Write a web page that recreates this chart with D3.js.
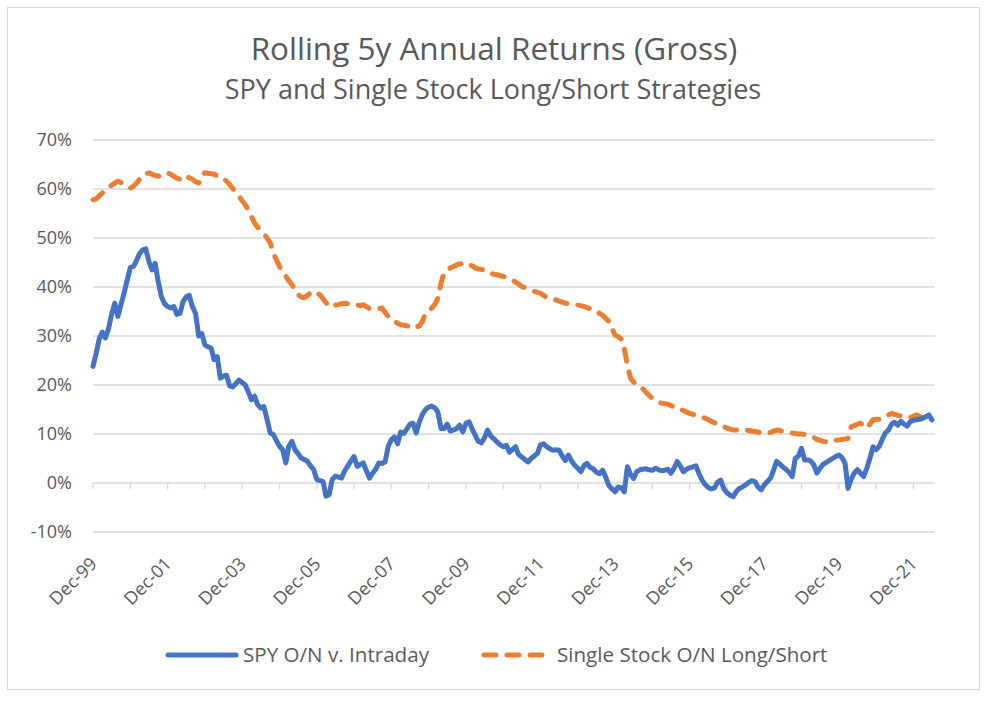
<!DOCTYPE html>
<html>
<head>
<meta charset="utf-8">
<script src="https://cdn.jsdelivr.net/npm/d3@7"></script>
<style>
  body { margin: 0; background: #fff; }
  text { font-family: "Open Sans", sans-serif; fill: #595959; }
</style>
</head>
<body>
<div id="chart"></div>
<script>
"use strict";

// monthly, first point Dec-99
var startMonth = new Date(1999, 11, 1);
var endMonth = new Date(2022, 6, 1);

var spy = [
  23.8, 26.5, 29.5, 30.8, 29.6, 31.5, 34.5, 36.7, 34.0, 36.5, 38.8, 41.5,
  44.0, 44.2, 45.5, 46.8, 47.6, 47.8, 45.2, 43.5, 44.8, 41.0, 38.0, 36.6,
  36.0, 35.7, 36.0, 34.4, 34.6, 37.0, 38.0, 38.3, 36.0, 34.6, 30.0, 30.5,
  28.2, 27.8, 27.5, 25.2, 25.8, 21.4, 21.8, 22.0, 19.8, 19.6, 20.3, 21.0,
  20.5, 20.0, 18.5, 17.0, 17.7, 16.0, 15.3, 15.6, 13.0, 10.2, 9.9, 8.6,
  7.5, 6.8, 4.1, 7.5, 8.5, 6.8, 6.0, 5.1, 4.8, 4.4, 3.5, 2.7,
  0.7, 0.5, 0.3, -2.7, -2.4, 0.7, 1.4, 1.2, 1.0, 2.5, 3.5, 4.5,
  5.4, 3.4, 3.8, 4.1, 2.5, 1.0, 2.0, 2.8, 4.1, 4.0, 4.3, 7.5,
  8.8, 9.4, 8.0, 10.4, 10.1, 11.0, 12.0, 12.2, 10.2, 12.5, 14.0, 15.0,
  15.5, 15.7, 15.3, 14.5, 11.1, 11.1, 12.0, 10.6, 10.8, 11.1, 11.8, 10.4,
  12.2, 12.5, 11.0, 9.8, 8.5, 8.2, 9.2, 10.8, 9.6, 9.0, 8.4, 7.8,
  7.4, 7.7, 6.3, 6.8, 7.4, 5.8, 5.3, 4.8, 4.3, 5.0, 5.5, 6.0,
  7.8, 8.0, 7.4, 7.0, 6.7, 6.8, 6.7, 5.5, 4.6, 5.7, 4.5, 3.6,
  3.0, 2.3, 3.6, 4.0, 3.2, 2.9, 2.2, 1.9, 2.6, 1.2, -0.5, -1.2,
  -1.8, -0.8, -1.0, -1.8, 3.3, 1.8, 0.9, 2.3, 2.7, 2.8, 2.9, 2.7,
  2.6, 3.0, 2.7, 2.5, 2.6, 2.8, 2.0, 3.0, 4.4, 3.5, 2.3, 2.8,
  3.1, 3.3, 3.5, 2.0, 0.6, -0.3, -0.9, -1.2, -1.0, 0.2, 0.6, -1.2,
  -2.0, -2.5, -2.8, -1.8, -1.1, -0.8, -0.4, 0.1, 0.5, 0.3, -0.8, -1.4,
  -0.4, 0.3, 1.0, 2.5, 4.4, 3.9, 3.3, 2.8, 2.2, 1.3, 5.0, 5.5,
  7.1, 4.7, 4.7, 4.5, 3.7, 2.0, 3.0, 3.8, 4.2, 4.6, 5.0, 5.4,
  5.7, 5.2, 4.0, -1.1, 0.8, 2.0, 2.7, 2.0, 1.3, 3.0, 5.0, 7.4,
  6.8, 7.5, 9.0, 10.2, 10.8, 12.0, 12.4, 11.8, 12.6, 12.0, 11.6, 12.5,
  12.8, 12.9, 13.0, 13.2, 13.5, 13.9, 12.9
];

var singleStock = [
  57.8, 58.0, 58.6, 59.2, 59.8, 60.2, 60.8, 61.2, 61.6, 61.3, 60.8, 60.5,
  60.2, 60.6, 61.2, 62.0, 62.9, 63.1, 63.3, 63.0, 62.8, 62.6, 62.9, 63.2,
  63.3, 63.0, 62.6, 62.2, 62.0, 61.9, 62.6, 62.3, 62.0, 61.5, 61.2, 62.5,
  63.3, 63.2, 63.1, 63.0, 62.7, 62.4, 62.1, 61.6, 60.9, 60.1, 59.3, 58.5,
  57.6, 56.8, 55.6, 54.4, 53.0, 52.2, 51.5, 51.0, 50.0, 49.0, 46.9, 45.5,
  44.2, 43.2, 42.2, 41.3, 40.5, 39.5, 38.4, 38.0, 37.8, 38.3, 38.8, 39.1,
  38.8, 38.4, 37.6, 36.8, 36.0, 36.1, 36.3, 36.4, 36.6, 36.7, 36.6, 36.4,
  36.4, 36.3, 36.2, 36.4, 36.0, 35.6, 35.4, 35.5, 35.6, 35.7, 34.8, 34.0,
  33.4, 33.0, 32.6, 32.3, 32.2, 32.1, 31.8, 31.6, 31.8, 32.1, 33.0, 34.7,
  35.2, 35.7, 36.5, 37.7, 40.8, 42.9, 43.3, 43.9, 44.2, 44.5, 44.7, 44.8,
  44.9, 44.6, 44.3, 43.9, 43.7, 43.6, 43.4, 43.1, 42.8, 42.6, 42.5, 42.3,
  42.2, 41.9, 41.6, 41.4, 41.0, 40.6, 40.1, 39.9, 39.7, 39.4, 39.1, 38.9,
  38.7, 38.3, 37.8, 37.6, 37.5, 37.4, 37.1, 36.9, 36.7, 36.6, 36.5, 36.4,
  36.3, 36.2, 36.0, 35.8, 35.6, 35.4, 35.0, 34.6, 34.2, 33.6, 33.0, 31.5,
  30.2, 29.9, 29.3, 27.5, 24.0, 21.4, 20.6, 20.1, 19.7, 19.2, 18.5, 17.8,
  17.3, 16.9, 16.5, 16.3, 16.2, 16.1, 15.8, 15.5, 15.2, 15.0, 14.8, 14.5,
  14.2, 14.0, 13.8, 13.6, 13.5, 13.2, 12.9, 12.6, 12.3, 12.0, 11.8, 11.5,
  11.2, 11.0, 10.8, 10.8, 10.8, 10.8, 10.8, 10.7, 10.6, 10.5, 10.4, 10.2,
  10.1, 10.1, 10.3, 10.6, 10.8, 10.7, 10.5, 10.4, 10.3, 10.2, 10.1, 10.0,
  10.0, 9.9, 9.8, 9.6, 9.3, 8.9, 8.7, 8.5, 8.4, 8.4, 8.5, 8.7,
  8.8, 8.9, 9.0, 9.1, 11.5, 11.7, 12.0, 12.2, 11.8, 11.2, 12.0, 12.9,
  13.0, 13.0, 13.3, 13.6, 13.9, 14.2, 14.0, 13.8, 13.7, 13.6, 13.5, 13.4,
  13.6, 13.9, 13.6, 13.3, 13.0, 13.0, 13.0
];

var yTicks = [-10, 0, 10, 20, 30, 40, 50, 60, 70];
var seriesNames = ["SPY O/N v. Intraday", "Single Stock O/N Long/Short"];
var title = "Rolling 5y Annual Returns (Gross)";
var subtitle = "SPY and Single Stock Long/Short Strategies";

var width = 987, height = 703;
var margin = { left: 93, right: 52, top: 140, bottom: 171 };

var svg = d3.select("#chart").append("svg")
  .attr("width", width)
  .attr("height", height);

svg.append("rect")
  .attr("x", 7.5).attr("y", 7.5)
  .attr("width", 972).attr("height", 682)
  .style("fill", "#fff")
  .style("stroke", "#d9d9d9");

var x = d3.scaleTime()
  .domain([startMonth, endMonth])
  .range([margin.left, width - margin.right]);
var y = d3.scaleLinear()
  .domain([-10, 70])
  .range([height - margin.bottom, margin.top]);

function monthDate(i) { return d3.timeMonth.offset(startMonth, i); }

// gridlines
svg.append("g")
  .selectAll("line")
  .data(yTicks)
  .enter().append("line")
  .attr("x1", margin.left).attr("x2", width - margin.right)
  .attr("y1", function(d) { return y(d); })
  .attr("y2", function(d) { return y(d); })
  .style("stroke", "#d9d9d9")
  .style("stroke-width", 1.3);

// y labels
svg.append("g")
  .selectAll("text")
  .data(yTicks)
  .enter().append("text")
  .attr("x", 72)
  .attr("y", function(d) { return y(d); })
  .attr("dy", "0.35em")
  .attr("text-anchor", "end")
  .style("font-size", "18px")
  .text(function(d) { return d + "%"; });

// x axis at 0%
var yearTicks = d3.range(0, 23).map(function(k) { return monthDate(k * 12); });
var xAxis = svg.append("g")
  .attr("transform", "translate(0," + y(0) + ")");
xAxis.selectAll("line.tick")
  .data(yearTicks)
  .enter().append("line")
  .attr("class", "tick")
  .attr("x1", function(d) { return x(d); })
  .attr("x2", function(d) { return x(d); })
  .attr("y1", 0).attr("y2", 6)
  .style("stroke", "#d9d9d9")
  .style("stroke-width", 1.3);

// category labels sit under the plot area
var fmt = d3.timeFormat("%b-%y");
svg.append("g")
  .selectAll("text")
  .data(yearTicks.filter(function(d, i) { return i % 2 === 0; }))
  .enter().append("text")
  .attr("text-anchor", "end")
  .attr("transform", function(d) {
    return "translate(" + (x(d) + 5) + "," + (y(-10) + 33) + ") rotate(-45)";
  })
  .style("font-size", "18px")
  .text(fmt);

var line = d3.line()
  .x(function(d, i) { return x(monthDate(i)); })
  .y(function(d) { return y(d); });

svg.append("path")
  .datum(singleStock)
  .attr("d", line)
  .style("fill", "none")
  .style("stroke", "#ed7d31")
  .style("stroke-width", 5)
  .style("stroke-linecap", "round")
  .style("stroke-linejoin", "round")
  .style("stroke-dasharray", "12,11");

svg.append("path")
  .datum(spy)
  .attr("d", line)
  .style("fill", "none")
  .style("stroke", "#4472c4")
  .style("stroke-width", 5)
  .style("stroke-linecap", "round")
  .style("stroke-linejoin", "round");

// titles
svg.append("text")
  .attr("x", 494).attr("y", 60)
  .attr("text-anchor", "middle")
  .style("font-size", "31.5px")
  .text(title);
svg.append("text")
  .attr("x", 493).attr("y", 99)
  .attr("text-anchor", "middle")
  .style("font-size", "27px")
  .text(subtitle);

// legend
var legend = svg.append("g").attr("transform", "translate(0,655)");
legend.append("line")
  .attr("x1", 168).attr("x2", 236).attr("y1", 0).attr("y2", 0)
  .style("stroke", "#4472c4").style("stroke-width", 5)
  .style("stroke-linecap", "round");
legend.append("text")
  .attr("x", 243).attr("y", 0).attr("dy", "0.35em")
  .style("font-size", "20.6px")
  .text(seriesNames[0]);
legend.append("line")
  .attr("x1", 484).attr("x2", 544).attr("y1", 0).attr("y2", 0)
  .style("stroke", "#ed7d31").style("stroke-width", 5)
  .style("stroke-linecap", "round")
  .style("stroke-dasharray", "12,11");
legend.append("text")
  .attr("x", 557).attr("y", 0).attr("dy", "0.35em")
  .style("font-size", "20.6px")
  .text(seriesNames[1]);
</script>
</body>
</html>
